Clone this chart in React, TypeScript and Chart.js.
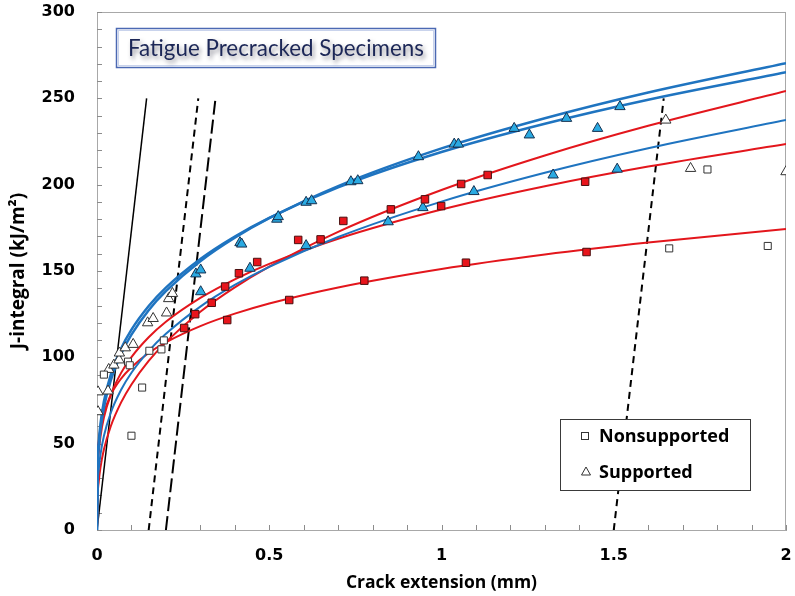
import React, { useEffect, useRef } from "react";
import { Chart, registerables } from "chart.js";

Chart.register(...registerables);

// ---------- data ----------
const xTickValues = [0, 0.5, 1, 1.5, 2];
const yTickValues = [0, 50, 100, 150, 200, 250, 300];

// fitted curves
const curveX = [0, 0.002, 0.005, 0.01, 0.02, 0.04, 0.07, 0.1, 0.15, 0.2, 0.3, 0.4, 0.5, 0.7, 1.0, 1.3, 1.6, 2.0];
const blueFit1 = [0, 36, 47.3, 57.9, 70.8, 86.6, 102, 113.1, 127.3, 138.3, 155.7, 169.3, 180.6, 199.2, 221, 238.5, 253.4, 270.4];
const blueFit2 = [0, 39.4, 50.7, 61.4, 74.4, 90.0, 105.1, 116, 129.7, 140.4, 157, 170, 180.8, 198.4, 218.9, 235.3, 249.2, 265.1];
const blueFit3 = [0, 26, 34.9, 43.6, 54.4, 67.9, 81.2, 91.1, 103.6, 113.6, 129.4, 141.9, 152.4, 169.7, 190.2, 206.9, 221.1, 237.4];
const redFit1 = [0, 19.9, 27.9, 36.1, 46.6, 60.1, 73.9, 84.3, 97.9, 108.8, 126.4, 140.5, 152.5, 172.7, 196.9, 216.9, 234.1, 254.2];
const redFit2 = [0, 35.1, 44.9, 54, 65.1, 78.3, 91, 100.1, 111.6, 120.6, 134.4, 145.2, 154.1, 168.7, 185.6, 199.1, 210.5, 223.5];
const redFit3 = [0, 42.3, 51, 58.8, 67.8, 78.2, 87.7, 94.3, 102.5, 108.7, 118.1, 125.3, 131.2, 140.5, 151.2, 159.6, 166.5, 174.3];

// construction lines
const lineY = [0, 250];
const bluntingX = [0, 0.144];
const exclusion015X = [0.15, 0.294];
const offset02X = [0.2, 0.344];
const exclusion15X = [1.5, 1.645];

// filled markers
const redSquareX = [0.253, 0.285, 0.333, 0.372, 0.378, 0.412, 0.465, 0.558, 0.584, 0.649, 0.715, 0.776, 0.853, 0.952, 0.999, 1.057, 1.071, 1.134, 1.417, 1.421];
const redSquareY = [117, 125, 131.6, 141, 121.6, 148.7, 155.2, 133.2, 168, 168.3, 179, 144.4, 185.7, 191.5, 187.6, 200.4, 154.8, 205.6, 201.7, 161];

const blueTriX = [0.287, 0.301, 0.301, 0.415, 0.42, 0.444, 0.522, 0.526, 0.607, 0.623, 0.607, 0.737, 0.757, 0.845, 0.933, 0.946, 1.037, 1.049, 1.094, 1.211, 1.255, 1.324, 1.363, 1.453, 1.51, 1.518];
const blueTriY = [148.3, 150.6, 138, 166.4, 165.6, 151.6, 180, 181.5, 189.8, 190.7, 164.7, 201.7, 202.3, 178.5, 216.2, 186.7, 223.5, 223.5, 196, 232.6, 228.8, 205.6, 238.4, 232.6, 209, 245.2];

// open markers (legend series)
const supportedX = [0.003, 0.003, 0.032, 0.034, 0.049, 0.064, 0.065, 0.082, 0.105, 0.147, 0.163, 0.202, 0.208, 0.219, 1.651, 1.723, 2.0];
const supportedY = [68.5, 80, 80.5, 93, 95.5, 98.5, 102.5, 105.5, 107.5, 120, 122.5, 125.7, 134, 137, 237.4, 209.4, 207.5];
const nonsupportedX = [0.02, 0.09, 0.095, 0.1, 0.131, 0.152, 0.187, 0.194, 1.661, 1.772, 1.947];
const nonsupportedY = [90, 97.5, 95.4, 54.6, 82.5, 103.8, 104.6, 109.8, 163.1, 208.8, 164.5];

const legendLabels = ["Nonsupported", "Supported"];
const chartTitle = "Fatigue Precracked Specimens";

const pts = (xs: number[], ys: number[]) => xs.map((x, i) => ({ x, y: ys[i] }));

const BLUE_LINE = "#1f74c0";
const RED_LINE = "#e3161c";

const decorPlugin = {
  id: "decor",
  beforeDatasetsDraw(chart: any) {
    const { ctx, chartArea: a, scales } = chart;
    ctx.save();
    ctx.strokeStyle = "#a8a8a8";
    ctx.lineWidth = 1;
    ctx.strokeRect(a.left + 0.5, a.top + 0.5, a.right - a.left - 1, a.bottom - a.top);
    ctx.strokeStyle = "#8c8c8c";
    ctx.beginPath();
    for (let i = 0; i <= 20; i++) {
      const px = Math.round(scales.x.getPixelForValue(i * 0.1)) + 0.5;
      ctx.moveTo(px, a.bottom);
      ctx.lineTo(px, a.bottom - 5);
    }
    for (let i = 0; i <= 30; i++) {
      const py = Math.round(scales.y.getPixelForValue(i * 10)) + 0.5;
      ctx.moveTo(a.left, py);
      ctx.lineTo(a.left + 5, py);
    }
    ctx.stroke();
    ctx.restore();
  },
  afterDraw(chart: any) {
    const { ctx, chartArea: a } = chart;
    ctx.save();
    // title box
    const bx = a.left + 19, by = a.top + 16, bw = 319, bh = 39;
    ctx.fillStyle = "#ffffff";
    ctx.fillRect(bx, by, bw, bh);
    ctx.strokeStyle = "#4b69b3";
    ctx.lineWidth = 1.5;
    ctx.strokeRect(bx + 0.5, by + 0.5, bw, bh);
    ctx.strokeStyle = "#c9d3ec";
    ctx.lineWidth = 1;
    ctx.strokeRect(bx + 2.5, by + 2.5, bw - 4, bh - 4);
    ctx.font = "23px Lato";
    const w = ctx.measureText(chartTitle).width;
    const size = 23 * 296 / w;
    ctx.font = `${size}px Lato`;
    ctx.textAlign = "center";
    ctx.textBaseline = "middle";
    ctx.shadowColor = "rgba(40,40,60,0.5)";
    ctx.shadowBlur = 4;
    ctx.shadowOffsetX = 2;
    ctx.shadowOffsetY = 3;
    ctx.fillStyle = "#1c2757";
    ctx.fillText(chartTitle, bx + bw / 2 + 0.5, by + bh / 2 + 1);
    ctx.shadowColor = "transparent";
    ctx.shadowBlur = 0;
    ctx.shadowOffsetX = 0;
    ctx.shadowOffsetY = 0;

    // legend box
    const lx = a.left + 463, ly = a.top + 407, lw = 190, lh = 71;
    ctx.fillStyle = "#ffffff";
    ctx.fillRect(lx, ly, lw, lh);
    ctx.strokeStyle = "#3a3a3a";
    ctx.lineWidth = 1;
    ctx.strokeRect(lx + 0.5, ly + 0.5, lw, lh);
    ctx.font = "bold 18px 'Open Sans'";
    ctx.textAlign = "left";
    ctx.textBaseline = "middle";
    ctx.fillStyle = "#000";
    ctx.strokeStyle = "#333";
    const sx = lx + 25, sy = ly + 17;
    ctx.strokeRect(sx - 3.5, sy - 3.5, 7, 7);
    ctx.fillText(legendLabels[0], lx + 39, sy + 1);
    const tx = lx + 26, ty = ly + 53;
    ctx.beginPath();
    ctx.moveTo(tx, ty - 5);
    ctx.lineTo(tx + 4.5, ty + 3);
    ctx.lineTo(tx - 4.5, ty + 3);
    ctx.closePath();
    ctx.stroke();
    ctx.fillText(legendLabels[1], lx + 39, ty + 1);
    ctx.restore();
  },
};

const zeroPad = (s: any) => {
  s.paddingLeft = 0;
  s.paddingRight = 0;
  s.paddingTop = 0;
  s.paddingBottom = 0;
};

export default function App() {
  const ref = useRef<HTMLCanvasElement>(null);
  useEffect(() => {
    if (!ref.current) return;
    const lineDs = (label: string, xs: number[], ys: number[], color: string, width: number, dash: number[] = [], smooth = false) => ({
      label,
      data: pts(xs, ys),
      showLine: true,
      borderColor: color,
      backgroundColor: color,
      borderWidth: width,
      borderDash: dash,
      pointRadius: 0,
      cubicInterpolationMode: smooth ? "monotone" : "default",
      order: 2,
    });
    const chart = new Chart(ref.current, {
      type: "scatter",
      data: {
        datasets: [
          {
            label: "Fatigue red",
            data: pts(redSquareX, redSquareY),
            pointStyle: "rect",
            pointRadius: 5.3,
            backgroundColor: "#e8141b",
            borderColor: "#4a1010",
            borderWidth: 1,
            order: 0,
          },
          {
            label: "Fatigue blue",
            data: pts(blueTriX, blueTriY),
            pointStyle: "triangle",
            pointRadius: 6,
            backgroundColor: "#2aaae2",
            borderColor: "#16304f",
            borderWidth: 1,
            order: 0,
          },
          {
            label: legendLabels[0],
            data: pts(nonsupportedX, nonsupportedY),
            pointStyle: "rect",
            pointRadius: 5,
            backgroundColor: "#ffffff",
            borderColor: "#333333",
            borderWidth: 1,
            order: 1,
          },
          {
            label: legendLabels[1],
            data: pts(supportedX, supportedY),
            pointStyle: "triangle",
            pointRadius: 6,
            backgroundColor: "#ffffff",
            borderColor: "#333333",
            borderWidth: 1,
            order: 1,
          },
          lineDs("Blue fit 1", curveX, blueFit1, BLUE_LINE, 2.5, [], true),
          lineDs("Blue fit 2", curveX, blueFit2, BLUE_LINE, 2.5, [], true),
          lineDs("Blue fit 3", curveX, blueFit3, BLUE_LINE, 2, [], true),
          lineDs("Red fit 1", curveX, redFit1, RED_LINE, 2, [], true),
          lineDs("Red fit 2", curveX, redFit2, RED_LINE, 2, [], true),
          lineDs("Red fit 3", curveX, redFit3, RED_LINE, 2, [], true),
          lineDs("Blunting", bluntingX, lineY, "#000000", 1.5),
          lineDs("0.15 mm exclusion", exclusion015X, lineY, "#000000", 2, [7, 5]),
          lineDs("0.2 mm offset", offset02X, lineY, "#000000", 2, [14, 5]),
          lineDs("1.5 mm exclusion", exclusion15X, lineY, "#000000", 2, [7, 5]),
        ] as any,
      },
      options: {
        animation: false,
        responsive: true,
        maintainAspectRatio: false,
        layout: { padding: { top: 12, right: 9, left: 0, bottom: 0 } },
        plugins: {
          legend: { display: false },
          tooltip: { enabled: false },
          title: { display: false },
        },
        scales: {
          x: {
            type: "linear",
            min: 0,
            max: 2,
            afterBuildTicks: (s: any) => { s.ticks = xTickValues.map((v) => ({ value: v })); },
            afterFit: (s: any) => { s.height = 66; zeroPad(s); },
            grid: { display: false, drawTicks: false },
            border: { display: true, color: "#a0a0a0" },
            ticks: {
              padding: 16,
              maxRotation: 0,
              color: "#000",
              font: { family: "DejaVu Sans", weight: "bold", size: 16 },
              callback: (v: any) => String(v),
            },
            title: {
              display: true,
              text: "Crack extension (mm)",
              color: "#000",
              font: { family: "Open Sans", weight: "bold", size: 17.5 },
              padding: { top: 0, bottom: 2 },
            },
          },
          y: {
            type: "linear",
            min: 0,
            max: 300,
            afterBuildTicks: (s: any) => { s.ticks = yTickValues.map((v) => ({ value: v })); },
            afterFit: (s: any) => { s.width = 97; zeroPad(s); },
            grid: { display: false, drawTicks: false },
            border: { display: true, color: "#a0a0a0" },
            ticks: {
              padding: 22,
              color: "#000",
              font: { family: "DejaVu Sans", weight: "bold", size: 16 },
              callback: (v: any) => String(v),
            },
            title: {
              display: true,
              text: "J-integral (kJ/m²)",
              color: "#000",
              font: { family: "Open Sans", weight: "bold", size: 19 },
              padding: { top: 7, bottom: 0 },
            },
          },
        },
      },
      plugins: [decorPlugin],
    });
    return () => chart.destroy();
  }, []);
  return (
    <div style={{ position: "absolute", left: 0, top: 0, width: 795, height: 596, background: "#fff" }}>
      <canvas ref={ref} />
    </div>
  );
}
